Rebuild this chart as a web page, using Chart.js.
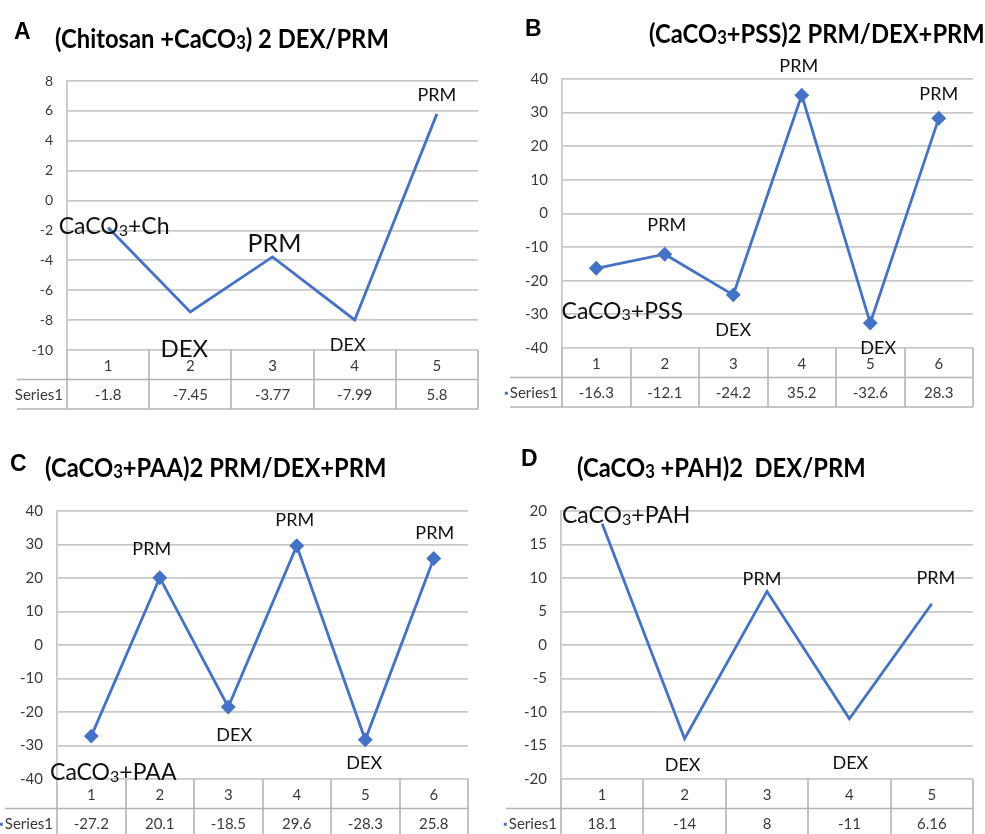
<!DOCTYPE html>
<html>
<head>
<meta charset="utf-8">
<script src="https://cdn.jsdelivr.net/npm/chart.js@4.4.1/dist/chart.umd.min.js"></script>
<style>
	body {
		margin: 0;
		width: 985px;
		height: 834px;
		background: #fff;
		position: relative;
		overflow: hidden;
		font-family: Lato, "Open Sans", sans-serif;
	}
	canvas { position: absolute; }
	.letter {
		position: absolute;
		font: bold 23px "Liberation Sans", Arial, sans-serif;
		line-height: 1;
		color: #000;
		z-index: 2;
	}
	.title {
		position: absolute;
		font-weight: bold;
		font-size: 27px;
		line-height: 1;
		white-space: pre;
		color: #000;
		z-index: 2;
		transform: scaleX(0.88);
		transform-origin: left center;
	}
	.title sub {
		font-size: 0.7em;
		vertical-align: baseline;
		position: relative;
		top: 0.06em;
	}
</style>
</head>
<body>
<div class="letter" style="left:14px;top:20px">A</div>
<div class="title" style="left:55px;top:24px">(Chitosan +CaCO<sub>3</sub>) 2 DEX/PRM</div>
<div class="letter" style="left:525px;top:17px">B</div>
<div class="title" style="left:649px;top:19px">(CaCO<sub>3</sub>+PSS)2 PRM/DEX+PRM</div>
<div class="letter" style="left:10px;top:452px">C</div>
<div class="title" style="left:45px;top:453px">(CaCO<sub>3</sub>+PAA)2 PRM/DEX+PRM</div>
<div class="letter" style="left:521px;top:447px">D</div>
<div class="title" style="left:577px;top:453px">(CaCO<sub>3</sub> +PAH)2  DEX/PRM</div>

<canvas id="chart-a" width="490" height="420" style="left:0;top:0"></canvas>
<canvas id="chart-b" width="495" height="420" style="left:490px;top:0"></canvas>
<canvas id="chart-c" width="490" height="420" style="left:0;top:420px"></canvas>
<canvas id="chart-d" width="495" height="420" style="left:490px;top:420px"></canvas>

<script>
// data
const catsA = ["1", "2", "3", "4", "5"];
const valsA = [-1.8, -7.45, -3.77, -7.99, 5.8];
const tagsA = ["CaCO3+Ch", "DEX", "PRM", "DEX", "PRM"];
const yTicksA = { min: -10, max: 8, step: 2 };

const catsB = ["1", "2", "3", "4", "5", "6"];
const valsB = [-16.3, -12.1, -24.2, 35.2, -32.6, 28.3];
const tagsB = ["CaCO3+PSS", "PRM", "DEX", "PRM", "DEX", "PRM"];
const yTicksB = { min: -40, max: 40, step: 10 };

const catsC = ["1", "2", "3", "4", "5", "6"];
const valsC = [-27.2, 20.1, -18.5, 29.6, -28.3, 25.8];
const tagsC = ["CaCO3+PAA", "PRM", "DEX", "PRM", "DEX", "PRM"];
const yTicksC = { min: -40, max: 40, step: 10 };

const catsD = ["1", "2", "3", "4", "5"];
const valsD = [18.1, -14, 8, -11, 6.16];
const tagsD = ["CaCO3+PAH", "DEX", "PRM", "DEX", "PRM"];
const yTicksD = { min: -20, max: 20, step: 5 };

const seriesName = "Series1";

const FONT = 'Lato, "Open Sans", sans-serif';
const LINE_BLUE = "#4472C4";
const GRID = "#c8c8c8";
const TABLE_LINE = "#b4b4b4";
const TEXT = "#3a3a3a";
const ROW_H = 29.5;

// label offsets from each point: [dx, dy, font size]
const tagPosA = [[6, -2, 23], [-6, 36, 24], [2, -14, 25], [-7, 25, 18], [0, -19, 18]];
const tagPosB = [[26, 42, 23], [2, -30, 18], [0, 35, 18], [-3, -30, 18], [8, 24, 18], [0, -25, 18]];
const tagPosC = [[22, 36, 23], [-8, -29, 18], [6, 28, 18], [-2, -26, 18], [-1, 23, 18], [1, -26, 18]];
const tagPosD = [[24, -9, 23], [-2, 26, 18], [-5, -13, 18], [1, 44, 18], [4, -26, 18]];

function drawRich(ctx, text, cx, cy, size) {
	const parts = text.split("CaCO3");
	let segs = [[text, 1, 0]];
	if (parts.length === 2) {
		segs = [[parts[0] + "CaCO", 1, 0], ["3", 0.7, 0.08], [parts[1], 1, 0]];
	}
	let total = 0;
	segs.forEach((s) => {
		ctx.font = `${size * s[1]}px ${FONT}`;
		s.w = ctx.measureText(s[0]).width;
		total += s.w;
	});
	let x = cx - total / 2;
	const base = cy + size * 0.36;
	ctx.textAlign = "left";
	ctx.textBaseline = "alphabetic";
	segs.forEach((s) => {
		ctx.font = `${size * s[1]}px ${FONT}`;
		ctx.fillText(s[0], x, base + s[2] * size);
		x += s.w;
	});
}

const tablePlugin = {
	id: "tableAndTags",
	afterDraw(chart, args, opts) {
		const { ctx, chartArea: a } = chart;
		const x = chart.scales.x;
		const n = opts.cats.length;
		const step = x.getPixelForValue(1) - x.getPixelForValue(0);
		const x0 = x.getPixelForValue(0) - step / 2;

		ctx.save();
		// table grid
		ctx.strokeStyle = TABLE_LINE;
		ctx.lineWidth = 1.6;
		ctx.beginPath();
		for (let k = 0; k <= n; k++) {
			const px = Math.round(x0 + k * step);
			ctx.moveTo(px, a.bottom);
			ctx.lineTo(px, a.bottom + 2 * ROW_H);
		}
		ctx.moveTo(a.left - opts.labelW, a.bottom + ROW_H);
		ctx.lineTo(a.right, a.bottom + ROW_H);
		ctx.moveTo(a.left - opts.labelW, a.bottom + 2 * ROW_H);
		ctx.lineTo(a.right, a.bottom + 2 * ROW_H);
		ctx.stroke();

		// value row
		ctx.fillStyle = TEXT;
		ctx.font = `${opts.tableSize}px ${FONT}`;
		ctx.textAlign = "center";
		ctx.textBaseline = "middle";
		const rowY = a.bottom + ROW_H * 1.5 + 1;
		opts.vals.forEach((v, i) => {
			ctx.fillText(String(v), x.getPixelForValue(i), rowY);
		});
		ctx.textAlign = "right";
		ctx.fillText(seriesName, a.left - 4, rowY);
		if (opts.keyDot) {
			const w = ctx.measureText(seriesName).width;
			ctx.fillStyle = LINE_BLUE;
			ctx.fillRect(a.left - 4 - w - 5, rowY - 1.5, 3, 3);
		}

		// point labels
		ctx.fillStyle = "#111";
		const meta = chart.getDatasetMeta(0);
		meta.data.forEach((pt, i) => {
			const [dx, dy, size] = opts.tagPos[i];
			drawRich(ctx, opts.tags[i], pt.x + dx, pt.y + dy, size);
		});
		ctx.restore();
	},
};

function makeChart(id, cfg) {
	const canvas = document.getElementById(id);
	const [L, T, R, B] = cfg.area;
	return new Chart(canvas.getContext("2d"), {
		type: "line",
		data: {
			labels: cfg.cats,
			datasets: [
				{
					label: seriesName,
					data: cfg.vals,
					borderColor: LINE_BLUE,
					backgroundColor: LINE_BLUE,
					borderWidth: 2.8,
					tension: 0,
					pointStyle: "rectRot",
					pointRadius: cfg.marker ? 5.5 : 0,
					pointBackgroundColor: LINE_BLUE,
					pointBorderColor: LINE_BLUE,
				},
			],
		},
		options: {
			responsive: false,
			animation: false,
			devicePixelRatio: 1,
			layout: {
				autoPadding: false,
				padding: {
					left: 0,
					top: T,
					right: canvas.width - R,
					bottom: canvas.height - B - 2 * ROW_H,
				},
			},
			scales: {
				x: {
					offset: true,
					grid: { display: false, offset: true },
					border: { display: false },
					ticks: {
						color: TEXT,
						font: { family: FONT, size: cfg.tableSize },
						padding: -1,
						maxRotation: 0,
					},
					afterFit(scale) {
						scale.height = 2 * ROW_H;
					},
				},
				y: {
					min: cfg.y.min,
					max: cfg.y.max,
					grid: { color: GRID, lineWidth: 1.8, drawTicks: false },
					border: { display: true, color: GRID, width: 1.8 },
					ticks: {
						stepSize: cfg.y.step,
						color: TEXT,
						padding: 14,
						font: { family: FONT, size: cfg.tickSize },
					},
					afterFit(scale) {
						scale.width = L;
					},
				},
			},
			plugins: {
				legend: { display: false },
				tooltip: { enabled: false },
				tableAndTags: {
					cats: cfg.cats,
					vals: cfg.vals,
					tags: cfg.tags,
					tagPos: cfg.tagPos,
					keyDot: cfg.keyDot,
					labelW: cfg.labelW,
					tableSize: cfg.tableSize,
				},
			},
		},
		plugins: [tablePlugin],
	});
}

makeChart("chart-a", {
	area: [67, 81, 478, 350],
	cats: catsA, vals: valsA, tags: tagsA, tagPos: tagPosA, y: yTicksA,
	marker: false, keyDot: false, labelW: 50, tickSize: 14, tableSize: 15,
});
makeChart("chart-b", {
	area: [72, 79, 483, 348],
	cats: catsB, vals: valsB, tags: tagsB, tagPos: tagPosB, y: yTicksB,
	marker: true, keyDot: true, labelW: 52, tickSize: 15, tableSize: 15,
});
makeChart("chart-c", {
	area: [57, 91, 468, 359],
	cats: catsC, vals: valsC, tags: tagsC, tagPos: tagPosC, y: yTicksC,
	marker: true, keyDot: true, labelW: 52, tickSize: 15, tableSize: 15,
});
makeChart("chart-d", {
	area: [71, 91, 483, 359],
	cats: catsD, vals: valsD, tags: tagsD, tagPos: tagPosD, y: yTicksD,
	marker: false, keyDot: true, labelW: 55, tickSize: 15, tableSize: 15,
});
</script>
</body>
</html>
